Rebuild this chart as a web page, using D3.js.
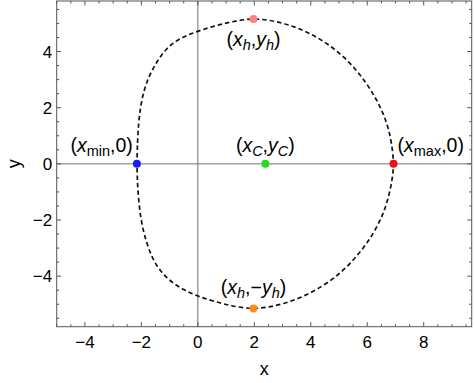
<!DOCTYPE html>
<html>
<head>
<meta charset="utf-8">
<script src="https://cdn.jsdelivr.net/npm/d3@7"></script>
<style>
  html, body { margin: 0; padding: 0; background: #fff; }
  svg { display: block; font-family: "Liberation Sans", Arial, sans-serif; }
</style>
</head>
<body>
<svg id="chart" width="474" height="383"></svg>
<script>
// Closed curve points (counter-clockwise from x_min)
const curveX = [-2.16, -2.14, -2.10, -2.03, -1.91, -1.74, -1.53, -1.26, -0.92, -0.49, 0.01, 0.58, 1.17, 1.97,
                2.83, 3.43, 4.03, 4.60, 5.16, 5.63, 6.02, 6.33, 6.57, 6.75, 6.87, 6.95,
                6.88, 6.75, 6.57, 6.30, 5.93, 5.45, 4.95, 4.36, 3.67, 2.85, 1.97,
                1.17, 0.58, 0.01, -0.49, -0.94, -1.31, -1.60, -1.83, -2.00, -2.09, -2.14];
const curveY = [0.00, 0.75, 1.46, 2.05, 2.62, 3.10, 3.50, 3.93, 4.29, 4.54, 4.73, 4.91, 5.06, 5.20,
                5.07, 4.88, 4.62, 4.28, 3.82, 3.33, 2.80, 2.29, 1.79, 1.28, 0.70, 0.00,
                -0.60, -1.22, -1.77, -2.34, -2.92, -3.50, -3.98, -4.40, -4.76, -5.05, -5.19,
                -5.06, -4.90, -4.72, -4.50, -4.21, -3.85, -3.40, -2.78, -2.10, -1.40, -0.70];

// Marked points
const pointNames  = ["xmin", "xC", "xmax", "hTop", "hBottom"];
const pointX      = [-2.16, 2.39, 6.93, 1.97, 1.97];
const pointY      = [0, 0, 0, 5.16, -5.15];
const pointColors = ["#1a1aff", "#22dd22", "#ee1111", "#ff8080", "#ff8c1a"];

// Tick labels
const xTicks = [-4, -2, 0, 2, 4, 6, 8];
const yTicks = [-4, -2, 0, 2, 4];

const svg = d3.select("#chart");
const L = 56.7, R = 471.7, T = 1, B = 326.7;
const x = d3.scaleLinear().domain([-5, 9.7]).range([L, R]);
const y = d3.scaleLinear().domain([-5.8, 5.8]).range([B, T]);

// Axes lines through origin
svg.append("line").attr("x1", L).attr("x2", R).attr("y1", y(0)).attr("y2", y(0))
  .attr("stroke", "#707070").attr("stroke-width", 1);
svg.append("line").attr("y1", T).attr("y2", B).attr("x1", x(0)).attr("x2", x(0))
  .attr("stroke", "#707070").attr("stroke-width", 1);

// Frame ticks (inward, all four sides)
const xMinor = d3.range(-5, 9.51, 0.5);
const yMinor = d3.range(-5.5, 5.51, 0.5);
const isMajor = v => Math.abs(v / 2 - Math.round(v / 2)) < 1e-6;
const tickG = svg.append("g").attr("stroke", "#555").attr("stroke-width", 1);
xMinor.forEach(v => {
  const len = isMajor(v) ? 4.5 : 2.5;
  tickG.append("line").attr("x1", x(v)).attr("x2", x(v)).attr("y1", B).attr("y2", B - len);
  tickG.append("line").attr("x1", x(v)).attr("x2", x(v)).attr("y1", T).attr("y2", T + len);
});
yMinor.forEach(v => {
  const len = isMajor(v) ? 4.5 : 2.5;
  tickG.append("line").attr("y1", y(v)).attr("y2", y(v)).attr("x1", L).attr("x2", L + len);
  tickG.append("line").attr("y1", y(v)).attr("y2", y(v)).attr("x1", R).attr("x2", R - len);
});

// Frame
svg.append("rect").attr("x", L).attr("y", T).attr("width", R - L).attr("height", B - T)
  .attr("fill", "none").attr("stroke", "#555").attr("stroke-width", 1);

// Tick labels
const fmt = v => v < 0 ? "\u2212" + Math.abs(v) : String(v);
svg.append("g").selectAll("text").data(xTicks).join("text")
  .attr("x", d => x(d)).attr("y", 348)
  .attr("text-anchor", "middle").attr("font-size", 17).attr("fill", "#000")
  .text(fmt);
svg.append("g").selectAll("text").data(yTicks).join("text")
  .attr("x", L - 4.5).attr("y", d => y(d) + 6)
  .attr("text-anchor", "end").attr("font-size", 17).attr("fill", "#000")
  .text(fmt);

// Axis titles
svg.append("text").attr("x", (L + R) / 2).attr("y", 375).attr("text-anchor", "middle")
  .attr("font-size", 18).text("x");
svg.append("text").attr("transform", `translate(20,${(T + B) / 2}) rotate(-90)`)
  .attr("text-anchor", "middle").attr("font-size", 18).text("y");

// Curve
const line = d3.line().x(d => x(d[0])).y(d => y(d[1])).curve(d3.curveBasisClosed);
svg.append("path").datum(curveX.map((v, i) => [v, curveY[i]]))
  .attr("d", line).attr("fill", "none").attr("stroke", "#111")
  .attr("stroke-width", 1.7).attr("stroke-dasharray", "4.5,3");

// Points
svg.append("g").selectAll("circle").data(pointX).join("circle")
  .attr("cx", d => x(d)).attr("cy", (d, i) => y(pointY[i])).attr("r", 4)
  .attr("fill", (d, i) => pointColors[i]);

// Labels with subscripts
function label(px, py, anchor, parts) {
  const t = svg.append("text").attr("x", px).attr("y", py).attr("text-anchor", anchor)
    .attr("font-size", 19.5).attr("fill", "#000");
  parts.forEach(p => {
    const s = t.append("tspan").text(p.t);
    if (p.i) s.attr("font-style", "italic");
    if (p.sub) s.attr("font-size", 14.5).attr("dy", 4);
    if (p.up) s.attr("dy", -4);
  });
}
label(x(-2.16) - 4, 152, "end",
  [{t: "("}, {t: "x", i: 1}, {t: "min", sub: 1}, {t: ",0)", up: 1}]);
label(x(2.39), 152, "middle",
  [{t: "("}, {t: "x", i: 1}, {t: "C", i: 1, sub: 1}, {t: ",", up: 1}, {t: "y", i: 1}, {t: "C", i: 1, sub: 1}, {t: ")", up: 1}]);
label(x(6.93) + 4, 152, "start",
  [{t: "("}, {t: "x", i: 1}, {t: "max", sub: 1}, {t: ",0)", up: 1}]);
label(x(1.97), 46, "middle",
  [{t: "("}, {t: "x", i: 1}, {t: "h", i: 1, sub: 1}, {t: ",", up: 1}, {t: "y", i: 1}, {t: "h", i: 1, sub: 1}, {t: ")", up: 1}]);
label(x(1.97), 294, "middle",
  [{t: "("}, {t: "x", i: 1}, {t: "h", i: 1, sub: 1}, {t: ",\u2212", up: 1}, {t: "y", i: 1}, {t: "h", i: 1, sub: 1}, {t: ")", up: 1}]);
</script>
</body>
</html>
